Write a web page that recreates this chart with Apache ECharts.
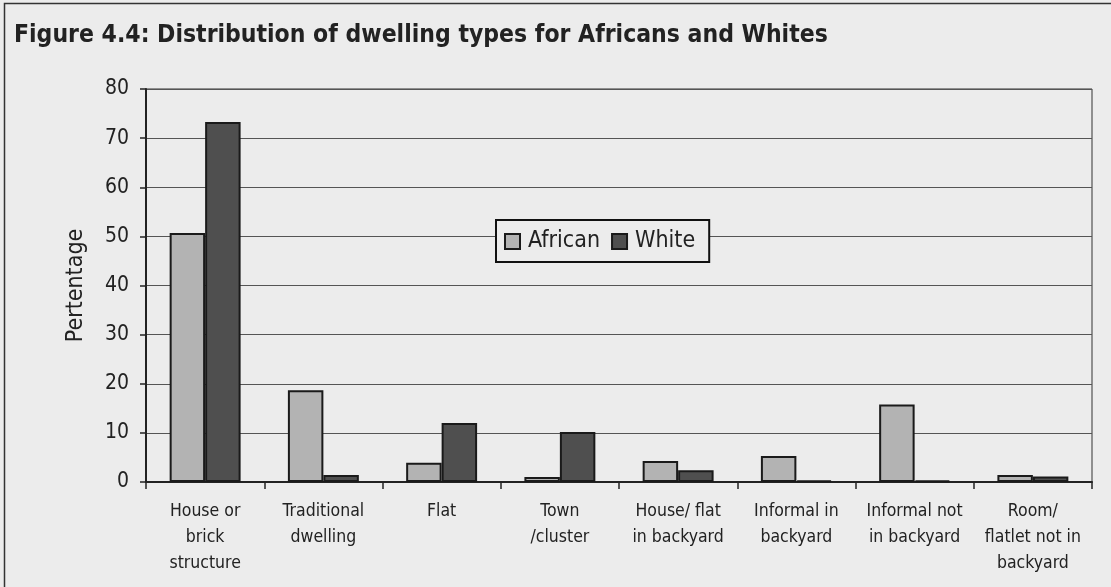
<!DOCTYPE html>
<html>
<head>
<meta charset="utf-8">
<script src="https://cdn.jsdelivr.net/npm/echarts@6/dist/echarts.min.js"></script>
<style>
    html, body { margin: 0; padding: 0; background: #ececec; }
    #chart { width: 1111px; height: 587px; }
</style>
</head>
<body>
<div id="chart"></div>
<script>
const categories = [
    "House or\nbrick\nstructure",
    "Traditional\ndwelling",
    "Flat",
    "Town\n/cluster",
    "House/ flat\nin backyard",
    "Informal in\nbackyard",
    "Informal not\nin backyard",
    "Room/\nflatlet not in\nbackyard",
]
const african = [50.7, 18.7, 3.9, 1.0, 4.3, 5.3, 15.8, 1.4]
const white = [73.3, 1.4, 12.0, 10.2, 2.4, 0.3, 0.3, 1.1]
const yTicks = [0, 10, 20, 30, 40, 50, 60, 70, 80]

const font = "DejaVu Sans Condensed, DejaVu Sans, sans-serif"
const chart = echarts.init(document.getElementById("chart"))

const option = {
    backgroundColor: "#ececec",
    animation: false,
    textStyle: { fontFamily: font },
    title: {
        text: "Figure 4.4: Distribution of dwelling types for Africans and Whites",
        left: 9,
        top: 18,
        textStyle: {
            fontSize: 24.5,
            fontWeight: "bold",
            color: "#222",
            fontFamily: font,
        },
    },
    graphic: [
        {
            type: "rect",
            shape: { x: 4.5, y: 3.5, width: 1110, height: 590 },
            style: { fill: "none", stroke: "#333", lineWidth: 1.5 },
            silent: true,
        },
    ],
    legend: {
        data: ["African", "White"],
        left: 496,
        top: 220,
        padding: [10, 14, 9, 8],
        itemGap: 11,
        itemWidth: 15,
        itemHeight: 15,
        icon: "rect",
        borderColor: "#111",
        borderWidth: 2,
        backgroundColor: "#ececec",
        textStyle: { fontSize: 23, color: "#222", padding: [0, 0, 0, 3] },
    },
    grid: {
        left: 146,
        right: 19,
        top: 89,
        bottom: 105,
        show: true,
        borderColor: "#333",
        borderWidth: 1,
    },
    xAxis: {
        type: "category",
        data: categories,
        axisLine: { lineStyle: { color: "#222", width: 2 } },
        axisTick: { show: true, length: 7, lineStyle: { color: "#222", width: 1.5 } },
        axisLabel: {
            interval: 0,
            margin: 16,
            fontSize: 17.5,
            lineHeight: 26,
            color: "#222",
        },
    },
    yAxis: {
        type: "value",
        min: 0,
        max: 80,
        interval: 10,
        name: "Pertentage",
        nameLocation: "middle",
        nameGap: 58,
        nameTextStyle: { fontSize: 23, color: "#222" },
        axisLine: { show: true, lineStyle: { color: "#222", width: 2 } },
        axisTick: { show: true, length: 6, lineStyle: { color: "#222", width: 1.5 } },
        axisLabel: {
            fontSize: 21,
            color: "#222",
            margin: 17,
            formatter: v => (yTicks.includes(v) ? String(v) : ""),
        },
        splitLine: { lineStyle: { color: "#555", width: 1 } },
    },
    series: [
        {
            name: "African",
            type: "bar",
            data: african,
            barGap: "0%",
            barCategoryGap: "40%",
            itemStyle: { color: "#b3b3b3", borderColor: "#1a1a1a", borderWidth: 2 },
        },
        {
            name: "White",
            type: "bar",
            data: white,
            itemStyle: { color: "#4f4f4f", borderColor: "#1a1a1a", borderWidth: 2 },
        },
    ],
}

chart.setOption(option)
</script>
</body>
</html>
